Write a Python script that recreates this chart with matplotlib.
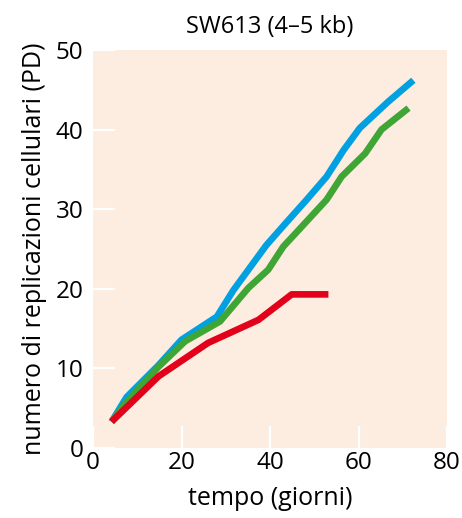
import matplotlib.pyplot as plt

plt.rcParams['font.family'] = ['Open Sans', 'DejaVu Sans']

# curva blu
blu_x = [4.2, 7.6, 14.8, 20.0, 28.0, 31.7, 39.2, 43.8, 48.3, 52.8, 56.6, 60.3, 66.7, 72.4]
blu_y = [3.3, 6.4, 10.4, 13.6, 16.5, 19.8, 25.5, 28.4, 31.2, 34.1, 37.4, 40.2, 43.5, 46.2]
# curva verde
verde_x = [4.2, 7.6, 14.8, 20.8, 28.7, 35.1, 39.6, 43.0, 47.5, 52.8, 56.2, 61.5, 65.2, 71.3]
verde_y = [3.3, 5.8, 10.2, 13.4, 15.9, 20.1, 22.4, 25.3, 28.0, 31.2, 34.1, 37.0, 40.0, 42.7]
# curva rossa
rosso_x = [4.2, 14.8, 26.0, 37.4, 44.9, 53.2]
rosso_y = [3.3, 9.0, 13.2, 16.1, 19.3, 19.3]

fig = plt.figure(figsize=(4.62, 5.18), dpi=100)
ax = fig.add_axes([93/462, 1 - 448/518, 354/462, 398/518])
ax.set_facecolor('#fdede1')

ax.plot(blu_x, blu_y, color='#00a0e1', lw=4.8, solid_capstyle='butt')
ax.plot(verde_x, verde_y, color='#3fa535', lw=4.8, solid_capstyle='butt')
ax.plot(rosso_x, rosso_y, color='#e3001b', lw=4.8, solid_capstyle='butt')

ax.set_xlim(0, 80)
ax.set_ylim(0, 50)
ax.set_xticks([0, 20, 40, 60, 80])
ax.set_yticks([0, 10, 20, 30, 40, 50])
for s in ax.spines.values():
    s.set_visible(False)
ax.tick_params(direction='in', length=16, width=1.6, color='white', labelsize=17.5)
ax.tick_params(axis='y', pad=7)
ax.tick_params(axis='x', pad=2)

ax.set_xlabel('tempo (giorni)', fontsize=18, labelpad=8)
ax.set_ylabel('numero di replicazioni cellulari (PD)', fontsize=18, labelpad=6)
ax.set_title('SW613 (4–5 kb)', fontsize=17, pad=12)

fig.savefig('out.png', dpi=100)
